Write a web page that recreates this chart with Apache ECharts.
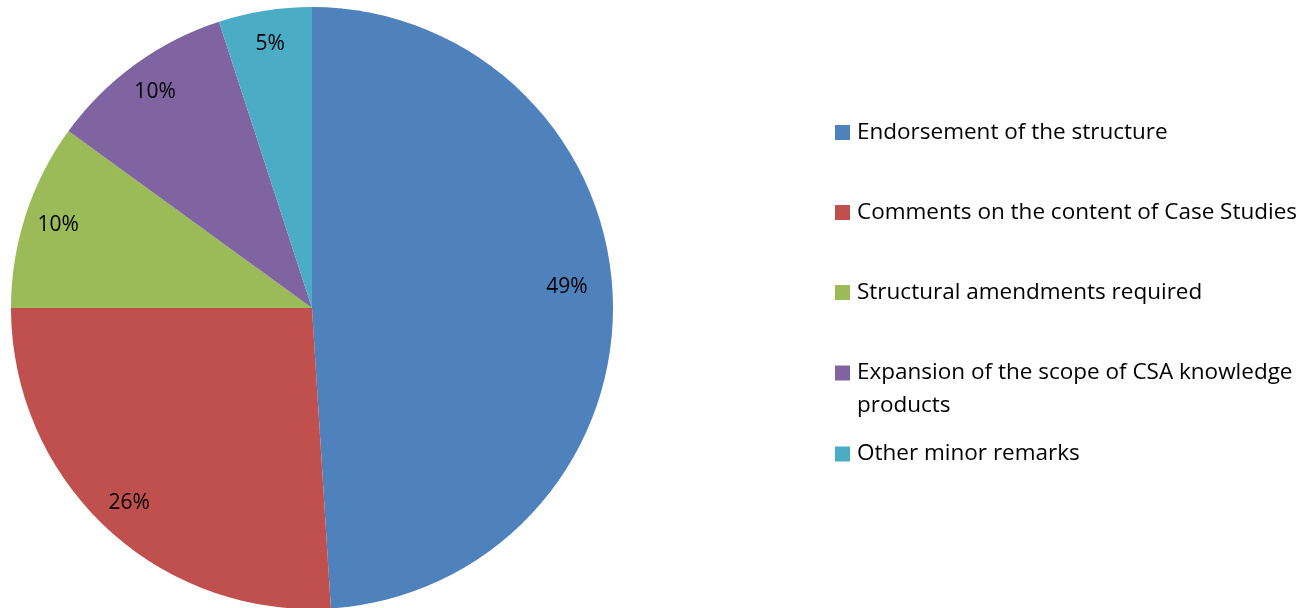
<!DOCTYPE html>
<html>
<head>
<meta charset="utf-8">
<script src="https://cdn.jsdelivr.net/npm/echarts@6/dist/echarts.min.js"></script>
<style>
  html, body { margin: 0; padding: 0; background: #ffffff; }
  #chart { width: 1314px; height: 608px; }
</style>
</head>
<body>
<div id="chart"></div>
<script>
// Feedback categories and their share of responses (%)
const categories = [
  'Endorsement of the structure',
  'Comments on the content of Case Studies',
  'Structural amendments required',
  'Expansion of the scope of CSA knowledge products',
  'Other minor remarks'
];
const shares = [49, 26, 10, 10, 5];
const colors = ['#4F81BD', '#C0504D', '#9BBB59', '#8064A2', '#4BACC6'];

// Legend rows: wrapped text for the long entry
const legendText = {
  'Expansion of the scope of CSA knowledge products': '\nExpansion of the scope of CSA knowledge\nproducts'
};

const FONT = 'Open Sans';
const FONT_SIZE = 22.5;
const center = [312, 308];
const outerR = 301;

const pieData = categories.map((name, i) => ({
  name: name,
  value: shares[i],
  itemStyle: { color: colors[i] }
}));

// One legend block per row so each row sits on its own baseline
const rowCenters = [132.5, 212.5, 292.5, 373, 454];
const legends = categories.map((name, i) => {
  const lines = (legendText[name] || name).split('\n').length;
  return {
    orient: 'vertical',
    left: 835,
    top: rowCenters[i] - lines * 33 / 2,
    padding: 0,
    itemWidth: 15,
    itemHeight: 15,
    itemGap: 0,
    icon: 'rect',
    selectedMode: false,
    data: [name],
    formatter: n => legendText[n] || n,
    textStyle: {
      fontFamily: FONT,
      fontSize: FONT_SIZE,
      lineHeight: 33,
      color: '#000000',
      padding: [0, 0, 0, 2]
    }
  };
});

const chart = echarts.init(document.getElementById('chart'), null, { renderer: 'canvas' });
chart.setOption({
  animation: false,
  backgroundColor: '#ffffff',
  color: colors,
  legend: legends,
  series: [
    {
      type: 'pie',
      center: center,
      radius: [0, outerR],
      startAngle: 90,
      clockwise: true,
      silent: true,
      label: { show: false },
      labelLine: { show: false },
      itemStyle: { borderWidth: 0 },
      emphasis: { disabled: true },
      data: pieData
    },
    {
      // transparent ring carrying the percentage labels near the rim
      type: 'pie',
      center: center,
      radius: [227, outerR],
      startAngle: 90,
      clockwise: true,
      silent: true,
      itemStyle: { color: 'rgba(0,0,0,0)', borderWidth: 0 },
      emphasis: { disabled: true },
      labelLine: { show: false },
      label: {
        show: true,
        position: 'inside',
        formatter: p => p.value + '%',
        fontFamily: FONT,
        fontSize: 21,
        color: '#000000'
      },
      data: categories.map((name, i) => ({
        name: name,
        value: shares[i],
        // the widest label sits a little further in from the rim
        label: i === 0 ? { offset: [-12, -13] } : undefined
      }))
    }
  ]
});
</script>
</body>
</html>
